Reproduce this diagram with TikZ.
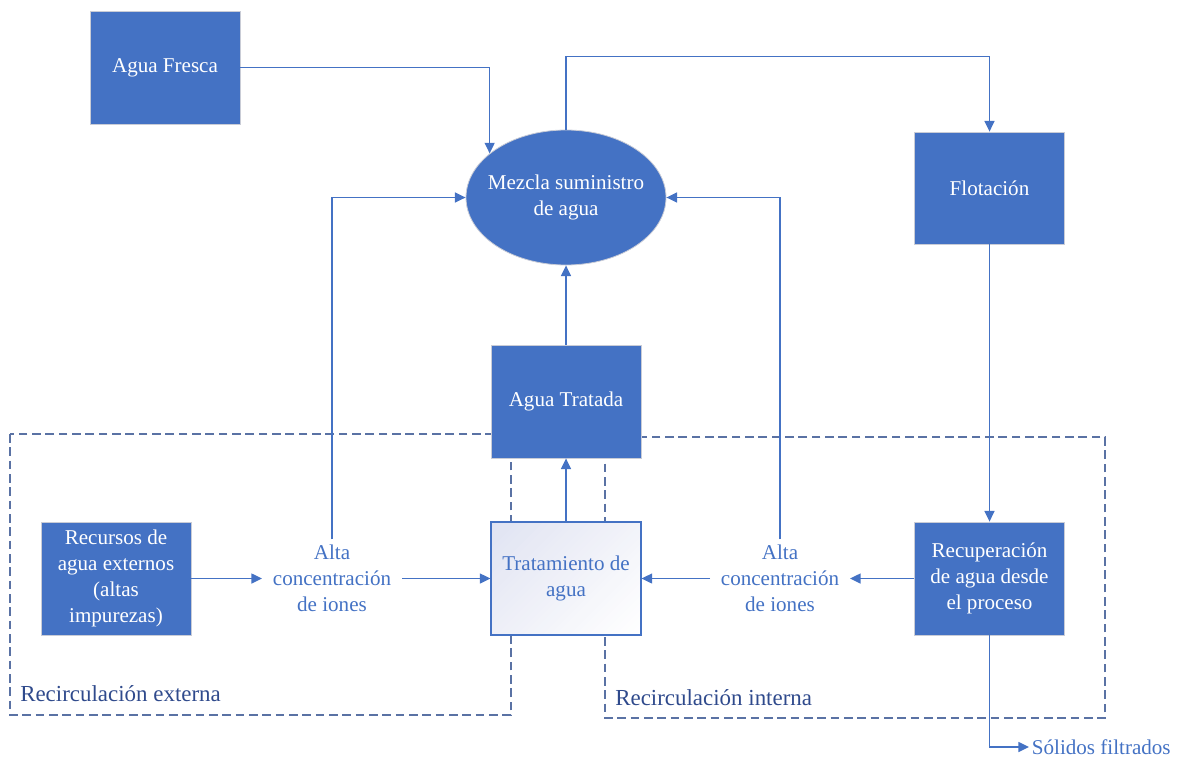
\documentclass[tikz,border=0pt]{standalone}
\usepackage{fontspec}
\setmainfont{Liberation Serif}
\usetikzlibrary{arrows.meta,shapes.geometric}
\definecolor{boxblue}{HTML}{4472C4}
\definecolor{edgegray}{HTML}{C9CCD6}
\definecolor{dashblue}{HTML}{5A72A4}
\definecolor{regiontext}{HTML}{2F4A8C}
\definecolor{lavender}{HTML}{E0E3F2}

\begin{document}
\begin{tikzpicture}[x=0.75pt,y=-0.75pt,
  font=\fontsize{15.8}{19.5}\selectfont,
  solidbox/.style={rectangle, fill=boxblue, draw=edgegray, line width=0.6pt,
    text=white, align=center, minimum width=112.5pt, minimum height=84.75pt, inner sep=2pt},
  softbox/.style={rectangle, draw=boxblue, line width=0.8pt, text=boxblue, align=center,
    minimum width=112.5pt, minimum height=84.75pt, inner sep=2pt},
  flowlabel/.style={text=boxblue, align=center, inner xsep=8pt, inner ysep=4pt},
  region/.style={draw=dashblue, line width=1.1pt, dash pattern=on 6.5pt off 3.5pt},
  regionlabel/.style={text=regiontext, font=\fontsize{17.2}{20}\selectfont, anchor=west, inner sep=0pt},
  arr/.style={draw=boxblue, line width=1.1pt, -{Triangle[length=8pt,width=7.5pt]}}
]
\useasboundingbox (0,0) rectangle (1177,757);

% recirculation regions (behind everything)
\draw[region] (10,434) rectangle (511,715);
\draw[region] (605,437) rectangle (1105,718);
\node[regionlabel] (extlbl) at (20,694) {Recirculación externa};
\node[regionlabel] (intlbl) at (615,698) {Recirculación interna};

% diagonal fade behind the treatment block: lavender upper left, white lower right
\begin{scope}
  \clip (491,522) rectangle (641,635);
  \fill[white] (491,522) rectangle (641,635);
  \foreach \k in {0,...,39}{
    \pgfmathtruncatemacro{\pct}{100-100*\k/39}
    \pgfmathsetmacro{\sa}{1013+263*\k/40}
    \pgfmathsetmacro{\sb}{1013+263*(\k+1)/40+0.6}
    \fill[lavender!\pct!white] (\sa-400,400) -- (\sb-400,400) -- (\sb-800,800) -- (\sa-800,800) -- cycle;
  }
\end{scope}

% process blocks
\node[solidbox] (fresca) at (165,67.5) {Agua Fresca};
\node[ellipse, fill=boxblue, draw=edgegray, line width=0.6pt,
      minimum width=150pt, minimum height=101.25pt, inner sep=0pt,
      label={[text=white, align=center]center:{Mezcla suministro\\de agua}}] (mezcla) at (566,197.5) {};
\node[solidbox, minimum width=112pt, minimum height=84pt] (flot) at (989.5,188) {Flotación};
\node[solidbox] (tratada) at (566,401.5) {Agua Tratada};
\node[softbox] (trat) at (566,578.5) {Tratamiento de\\agua};
\node[solidbox] (recursos) at (116,578.5) {Recursos de\\agua externos\\(altas\\impurezas)};
\node[solidbox, minimum width=112pt] (recup) at (989.5,578.5) {Recuperación\\de agua desde\\el proceso};

% stream labels
\node[flowlabel] (altaL) at (332,578.5) {Alta\\concentración\\de iones};
\node[flowlabel] (altaR) at (780,578.5) {Alta\\concentración\\de iones};
\node[text=boxblue, anchor=west, inner sep=2pt] (solidos) at (1029,747) {Sólidos filtrados};

% connectors
\draw[arr] (fresca.east) -| (mezcla.150);
\draw[arr] (mezcla.north) -- ++(0,-73) -| (flot.north);
\draw[arr] (flot.south) -- (recup.north);
\draw[arr] (recup.west) -- (altaR.east);
\draw[arr] (altaR.west) -- (trat.east);
\draw[arr] (altaR.north) |- (mezcla.east);
\draw[arr] (recursos.east) -- (altaL.west);
\draw[arr] (altaL.east) -- (trat.west);
\draw[arr] (altaL.north) |- (mezcla.west);
\draw[arr] (trat.north) -- (tratada.south);
\draw[arr] (tratada.north) -- (mezcla.south);
\draw[arr] (recup.south) |- (solidos.west);
\end{tikzpicture}
\end{document}
